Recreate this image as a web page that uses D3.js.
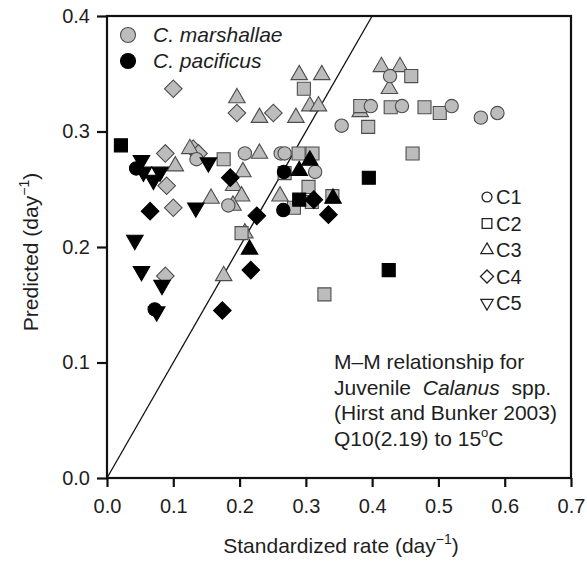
<!DOCTYPE html>
<html>
<head>
<meta charset="utf-8">
<script src="https://cdn.jsdelivr.net/npm/d3@7"></script>
<style>
  body { margin: 0; background: #fff; }
  text { font-family: "Liberation Sans", Arial, sans-serif; fill: #1e1e1e; }
</style>
</head>
<body>
<div id="chart"></div>
<script>
// C. marshallae (grey symbols), one array per stage: [standardized, predicted]
var marC1 = [[0.208,0.281],[0.262,0.281],[0.268,0.281],[0.135,0.276],[0.314,0.265],[0.183,0.236],[0.354,0.305],[0.398,0.322],[0.427,0.348],[0.445,0.322],[0.520,0.322],[0.564,0.312],[0.589,0.316]];
var marC2 = [[0.176,0.276],[0.289,0.281],[0.310,0.281],[0.304,0.252],[0.282,0.234],[0.340,0.244],[0.309,0.239],[0.268,0.264],[0.203,0.212],[0.328,0.159],[0.297,0.337],[0.459,0.348],[0.382,0.322],[0.428,0.321],[0.479,0.321],[0.502,0.316],[0.394,0.304],[0.461,0.281]];
var marC3 = [[0.290,0.349],[0.324,0.349],[0.414,0.356],[0.442,0.356],[0.426,0.337],[0.382,0.317],[0.306,0.322],[0.319,0.322],[0.196,0.329],[0.230,0.312],[0.285,0.312],[0.125,0.285],[0.230,0.281],[0.103,0.270],[0.205,0.265],[0.191,0.253],[0.203,0.244],[0.157,0.242],[0.190,0.236],[0.261,0.244],[0.208,0.212],[0.176,0.175]];
var marC4 = [[0.100,0.337],[0.196,0.316],[0.251,0.316],[0.088,0.281],[0.130,0.285],[0.138,0.281],[0.090,0.253],[0.100,0.234],[0.088,0.175]];

// C. pacificus (black symbols)
var pacC1 = [[0.044,0.268],[0.267,0.265],[0.266,0.232],[0.072,0.146]];
var pacC2 = [[0.021,0.288],[0.290,0.241],[0.395,0.260],[0.425,0.180]];
var pacC3 = [[0.290,0.266],[0.306,0.275],[0.341,0.242],[0.215,0.198]];
var pacC4 = [[0.186,0.260],[0.065,0.231],[0.226,0.227],[0.217,0.180],[0.174,0.145],[0.312,0.241],[0.334,0.228]];
var pacC5 = [[0.052,0.275],[0.055,0.265],[0.070,0.258],[0.080,0.265],[0.153,0.273],[0.134,0.234],[0.042,0.206],[0.052,0.179],[0.083,0.167],[0.075,0.144]];

var stages = ['C1', 'C2', 'C3', 'C4', 'C5'];
var xTicks = [0, 0.1, 0.2, 0.3, 0.4, 0.5, 0.6, 0.7];
var yTicks = [0, 0.1, 0.2, 0.3, 0.4];
var noteLines = ['M\u2013M relationship for', 'Juvenile', '(Hirst and Bunker 2003)', 'Q10(2.19) to 15'];

var W = 587, H = 563;
var margin = { top: 16, right: 16, bottom: 85, left: 107 };
var width = W - margin.left - margin.right,
    height = H - margin.top - margin.bottom;

var svg = d3.select('#chart')
    .append('svg')
    .attr('width', W)
    .attr('height', H);

var g = svg.append('g')
    .attr('transform', 'translate(' + margin.left + ',' + margin.top + ')');

var x = d3.scaleLinear().domain([0, 0.7]).range([0, width]);
var y = d3.scaleLinear().domain([0, 0.4]).range([height, 0]);

// symbol path per stage; k shrinks it for the legend
function symPath(stage, k) {
    var s = d3.symbol();
    if (stage === 'C1') return s.type(d3.symbolCircle).size(140 * k)();
    if (stage === 'C2') return s.type(d3.symbolSquare).size(170 * k)();
    if (stage === 'C3' || stage === 'C5') return s.type(d3.symbolTriangle).size(118 * k)();
    return s.type(d3.symbolSquare).size(155 * k)();
}
function symRot(stage) {
    if (stage === 'C4') return 45;
    if (stage === 'C5') return 180;
    return 0;
}

// 1:1 line
g.append('line')
    .attr('x1', x(0)).attr('y1', y(0))
    .attr('x2', x(0.4)).attr('y2', y(0.4))
    .attr('stroke', '#111')
    .attr('stroke-width', 1.3);

function drawGroup(arr, stage, fill, stroke) {
    g.selectAll(null)
        .data(arr)
        .enter()
        .append('path')
        .attr('d', symPath(stage, 1))
        .attr('transform', function(d) {
            return 'translate(' + x(d[0]) + ',' + y(d[1]) + ') rotate(' + symRot(stage) + ')';
        })
        .attr('fill', fill)
        .attr('stroke', stroke)
        .attr('stroke-width', 1.1);
}

var grey = '#bcbcbc', greyLine = '#4d4d4d';
drawGroup(marC4, 'C4', grey, greyLine);
drawGroup(marC3, 'C3', grey, greyLine);
drawGroup(marC2, 'C2', grey, greyLine);
drawGroup(marC1, 'C1', grey, greyLine);

drawGroup(pacC5, 'C5', '#000', '#000');
drawGroup(pacC4, 'C4', '#000', '#000');
drawGroup(pacC3, 'C3', '#000', '#000');
drawGroup(pacC2, 'C2', '#000', '#000');
drawGroup(pacC1, 'C1', '#000', '#000');

// frame
g.append('rect')
    .attr('width', width)
    .attr('height', height)
    .attr('fill', 'none')
    .attr('stroke', '#111')
    .attr('stroke-width', 2.2);

// axes
var xAxis = g.append('g')
    .attr('transform', 'translate(0,' + height + ')')
    .call(d3.axisBottom(x).tickValues(xTicks).tickFormat(d3.format('.1f')).tickSize(9).tickPadding(12));
var yAxis = g.append('g')
    .call(d3.axisLeft(y).tickValues(yTicks).tickFormat(d3.format('.1f')).tickSize(10).tickPadding(7));

[xAxis, yAxis].forEach(function(a) {
    a.select('.domain').remove();
    a.selectAll('line').attr('stroke', '#111').attr('stroke-width', 2.2);
    a.selectAll('text')
        .attr('fill', '#1e1e1e')
        .style('font-size', '20px')
        .style('font-family', '"Liberation Sans", Arial, sans-serif');
});

// axis titles
var xt = svg.append('text')
    .attr('x', 341)
    .attr('y', 553)
    .attr('text-anchor', 'middle')
    .style('font-size', '21px')
    .text('Standardized rate (day');
xt.append('tspan').attr('dy', -9).style('font-size', '14px').text('\u22121');
xt.append('tspan').attr('dy', 9).text(')');

var yt = svg.append('text')
    .attr('transform', 'translate(38,252) rotate(-90)')
    .attr('text-anchor', 'middle')
    .style('font-size', '21px')
    .text('Predicted (day');
yt.append('tspan').attr('dy', -9).style('font-size', '14px').text('\u22121');
yt.append('tspan').attr('dy', 9).text(')');

// species legend (top left)
var species = [['C. marshallae', grey, greyLine], ['C. pacificus', '#000', '#000']];
var sp = svg.selectAll('.sp')
    .data(species)
    .enter()
    .append('g')
    .attr('class', 'sp')
    .attr('transform', function(d, i) {
        return 'translate(128,' + (35 + i * 26) + ')';
    });
sp.append('circle')
    .attr('r', 7.5)
    .attr('fill', function(d) { return d[1]; })
    .attr('stroke', function(d) { return d[2]; })
    .attr('stroke-width', 1.1);
sp.append('text')
    .attr('x', 25)
    .attr('y', 7)
    .style('font-size', '21px')
    .style('font-style', 'italic')
    .text(function(d) { return d[0]; });

// stage legend (right)
var st = svg.selectAll('.st')
    .data(stages)
    .enter()
    .append('g')
    .attr('class', 'st')
    .attr('transform', function(d, i) {
        return 'translate(487,' + (197 + i * 26.5) + ')';
    });
st.append('path')
    .attr('d', function(d) { return symPath(d, 0.55); })
    .attr('transform', function(d) { return 'rotate(' + symRot(d) + ')'; })
    .attr('fill', '#fff')
    .attr('stroke', '#222')
    .attr('stroke-width', 1.3);
st.append('text')
    .attr('x', 9)
    .attr('y', 7)
    .style('font-size', '20px')
    .text(function(d) { return d; });

// annotation
var note = svg.append('g').attr('transform', 'translate(334,0)');
note.append('text').attr('y', 369).style('font-size', '21px').text(noteLines[0]);
var l2 = note.append('text').attr('y', 394.5).style('font-size', '21px').text(noteLines[1] + '\u00a0 ');
l2.append('tspan').style('font-style', 'italic').text('Calanus');
l2.append('tspan').text('\u00a0 spp.');
note.append('text').attr('y', 420).style('font-size', '21px').text(noteLines[2]);
var l4 = note.append('text').attr('y', 446).style('font-size', '21px').text(noteLines[3]);
l4.append('tspan').attr('dy', -9).style('font-size', '13px').text('o');
l4.append('tspan').attr('dy', 9).text('C');
</script>
</body>
</html>
